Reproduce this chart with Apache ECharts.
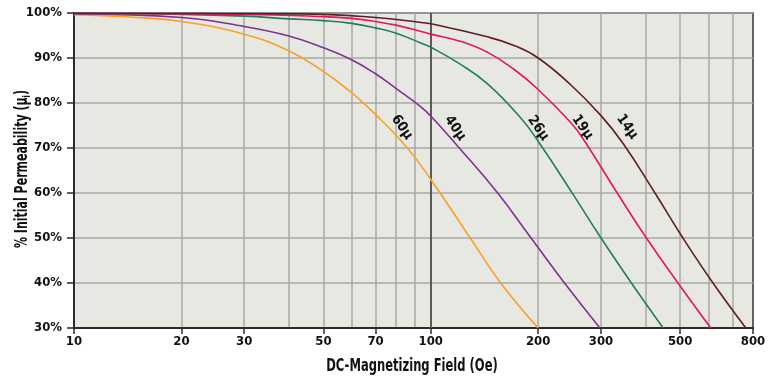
<!DOCTYPE html>
<html>
<head>
<meta charset="utf-8">
<script src="https://cdn.jsdelivr.net/npm/echarts@6/dist/echarts.min.js"></script>
<style>
html,body{margin:0;padding:0;background:#fff;}
#c{width:778px;height:385px;}
</style>
</head>
<body>
<div id="c"></div>
<script>
// ---- data (x = DC field in Oe, y = % initial permeability) ----
var mu60 = [[10,99.6],[15,99.0],[20,98.1],[30,95.3],[40,91.6],[50,87],[60,82.3],[72,76.5],[86,70],[100,63],[129,50],[157,40],[200,30]];
var mu40 = [[10,99.8],[20,99.0],[30,97.0],[40,94.9],[50,92.3],[60,89.6],[70,86.5],[80,83.2],[94,79.1],[100,77.1],[119,70.4],[154,60],[191,50],[237,40],[298,30]];
var mu26 = [[10,99.9],[20,99.7],[30,99.3],[40,98.7],[50,98.3],[60,97.7],[70,96.7],[80,95.5],[94,93.3],[100,92.4],[120,88.8],[144,84.3],[179,76.6],[200,71.5],[250,59.8],[300,50],[365,40],[448,30]];
var mu19 = [[10,99.9],[30,99.7],[50,99.2],[60,98.8],[70,98.1],[80,97.3],[94,95.9],[100,95.3],[120,93.8],[144,91.3],[171,87.5],[200,83],[247,75.6],[270,71.5],[330,60.5],[402,50],[493,40],[609,30]];
var mu14 = [[10,100],[43,99.8],[70,99],[94,97.9],[100,97.6],[144,94.7],[171,92.8],[200,90],[247,84],[300,77.2],[346,71],[425,60],[509,50],[618,40],[764,30]];

var seriesNames = ['60\u03bc','40\u03bc','26\u03bc','19\u03bc','14\u03bc'];
var seriesData = [mu60, mu40, mu26, mu19, mu14];
var seriesColors = ['#f7a02a','#7d3191','#1f7f5b','#e0185c','#5b1f22'];
// label anchor points (data coords) for the curve names
var labelPoints = [[83,74.6],[117,74.4],[200,74.4],[266,74.6],[355,74.7]];

var xLabelValues = [10,20,30,50,70,100,200,300,500,800];
var xGridValues = [20,30,40,50,60,70,80,90,100,200,300,400,500,600,700];
var xTitle = 'DC-Magnetizing Field (Oe)';
var yTitle = '% Initial Permeability (\u03bc{sub|i})';

var FONT = '"DejaVu Sans Condensed","Roboto","Liberation Sans",sans-serif';
var tickSize = 13;

var chart = echarts.init(document.getElementById('c'), null, {renderer:'canvas'});

var series = seriesData.map(function(d, i){
  var s = {
    name: seriesNames[i],
    type: 'line',
    data: d,
    xAxisIndex: 0,
    smooth: 0.45,
    symbol: 'none',
    lineStyle: {color: seriesColors[i], width: 1.6},
    silent: true,
    z: 5,
    markPoint: {
      symbol: 'circle', symbolSize: 0,
      silent: true,
      label: {
        show: true, formatter: seriesNames[i], rotate: -55,
        color: '#111', fontFamily: FONT, fontWeight: 'bold', fontSize: 14,
        position: 'inside'
      },
      data: [{coord: labelPoints[i]}]
    }
  };
  if (i === 0) {
    s.markLine = {
      silent: true, symbol: 'none', label: {show:false},
      lineStyle: {color:'#5a5a5a', width:2, type:'solid'},
      data: [{xAxis: 100}],
      z: 2
    };
  }
  return s;
});

chart.setOption({
  backgroundColor: '#ffffff',
  animation: false,
  grid: {
    left: 74, right: 25, top: 13, bottom: 57,
    outerBoundsMode: 'none', containLabel: false,
    show: true, backgroundColor: '#e8e8e3', borderColor: '#333', borderWidth: 1.5
  },
  xAxis: [{
    type: 'log', logBase: 10, min: 10, max: 800,
    axisLine: {show:false},
    axisTick: {show:false, customValues: xGridValues},
    axisLabel: {show:false},
    splitLine: {show:true, lineStyle:{color:'#a9a9a9', width:1.5}}
  },{
    type: 'log', logBase: 10, min: 10, max: 800, position: 'bottom',
    axisLine: {show:true, lineStyle:{color:'#2b2b2b', width:2}},
    axisTick: {show:true, length:6, inside:false, customValues: xLabelValues, lineStyle:{color:'#2b2b2b', width:1.5}},
    axisLabel: {show:true, customValues: xLabelValues, color:'#111', fontFamily: FONT, fontWeight:'bold', fontSize:tickSize, margin:7},
    splitLine: {show:false}
  }],
  yAxis: {
    type: 'value', min: 30, max: 100, interval: 10,
    axisLine: {show:true, lineStyle:{color:'#2b2b2b', width:2}},
    axisTick: {show:true, length:7, inside:false, lineStyle:{color:'#2b2b2b', width:1.5}},
    axisLabel: {formatter: '{value}%', color:'#111', fontFamily: FONT, fontWeight:'bold', fontSize:tickSize, margin:12},
    splitLine: {show:true, lineStyle:{color:'#a9a9a9', width:1.5}}
  },
  graphic: [{
    type: 'text', x: 412, y: 367, scaleX: 0.755, silent: true,
    style: {text: xTitle, fill: '#111', fontFamily: FONT, fontWeight: 'bold', fontSize: 17, align: 'center', verticalAlign: 'middle'}
  },{
    type: 'text', x: 23, y: 169, rotation: Math.PI/2, scaleX: 0.72, silent: true,
    style: {text: yTitle, fill: '#111', fontFamily: FONT, fontWeight: 'bold', fontSize: 17, align: 'center', verticalAlign: 'middle',
      rich: {sub: {fill:'#111', fontFamily: FONT, fontWeight: 'bold', fontSize: 11, padding: [9,0,0,0]}}}
  }],
  series: series
});
</script>
</body>
</html>
